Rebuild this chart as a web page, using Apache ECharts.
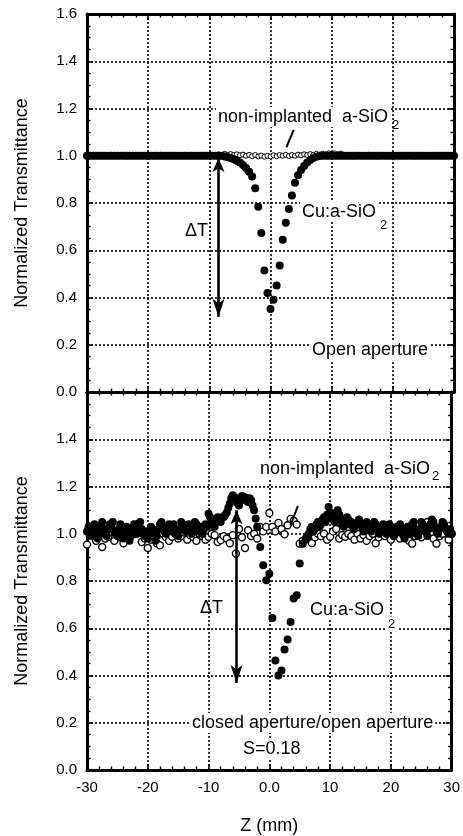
<!DOCTYPE html>
<html>
<head>
<meta charset="utf-8">
<script src="https://cdn.jsdelivr.net/npm/echarts@6/dist/echarts.min.js"></script>
<style>
  html, body { margin: 0; padding: 0; background: #fff; }
  #chart { width: 463px; height: 836px; }
</style>
</head>
<body>
<div id="chart"></div>
<script>
// Sample position along the beam axis, Z (mm), 0.5 mm scan
const zScan = [
  -30, -29.5, -29, -28.5, -28, -27.5, -27, -26.5, -26, -25.5,
  -25, -24.5, -24, -23.5, -23, -22.5, -22, -21.5, -21, -20.5,
  -20, -19.5, -19, -18.5, -18, -17.5, -17, -16.5, -16, -15.5,
  -15, -14.5, -14, -13.5, -13, -12.5, -12, -11.5, -11, -10.5,
  -10, -9.5, -9, -8.5, -8, -7.5, -7, -6.5, -6, -5.5,
  -5, -4.5, -4, -3.5, -3, -2.5, -2, -1.5, -1, -0.5,
  0, 0.5, 1, 1.5, 2, 2.5, 3, 3.5, 4, 4.5,
  5, 5.5, 6, 6.5, 7, 7.5, 8, 8.5, 9, 9.5,
  10, 10.5, 11, 11.5, 12, 12.5, 13, 13.5, 14, 14.5,
  15, 15.5, 16, 16.5, 17, 17.5, 18, 18.5, 19, 19.5,
  20, 20.5, 21, 21.5, 22, 22.5, 23, 23.5, 24, 24.5,
  25, 25.5, 26, 26.5, 27, 27.5, 28, 28.5, 29, 29.5,
  30
];

// Open aperture, Cu:a-SiO2
const openCu = [
  1, 1, 1, 1, 1, 1, 1, 1, 1, 1,
  1, 1, 1, 1, 1, 1, 1, 1, 1, 1,
  1, 1, 1, 1, 1, 1, 1, 1, 1, 1,
  1, 1, 1, 1, 1, 1, 1, 1, 1, 1,
  1, 1, 1, 1, 1.0, 0.997, 0.994, 0.99, 0.985, 0.979,
  0.971, 0.961, 0.948, 0.932, 0.912, 0.862, 0.784, 0.673, 0.514, 0.419,
  0.351, 0.39, 0.451, 0.535, 0.644, 0.716, 0.775, 0.832, 0.886, 0.917,
  0.94, 0.957, 0.971, 0.982, 0.99, 0.996, 0.999, 1, 1, 1,
  1, 1, 1, 1, 1, 1, 1, 1, 1, 1,
  1, 1, 1, 1, 1, 1, 1, 1, 1, 1,
  1, 1, 1, 1, 1, 1, 1, 1, 1, 1,
  1, 1, 1, 1, 1, 1, 1, 1, 1, 1,
  1
];

// Open aperture, non-implanted a-SiO2
const openSiO2 = [
  1.002, 0.998, 1.004, 1.0, 0.997, 1.003, 1.001, 0.998, 1.004, 1.0,
  0.999, 1.003, 1.0, 0.997, 1.002, 1.004, 0.999, 1.001, 0.998, 1.003,
  1.0, 1.002, 0.997, 1.001, 1.004, 0.999, 1.0, 1.003, 0.998, 1.001,
  1.002, 0.999, 1.004, 1.0, 0.998, 1.003, 1.001, 0.997, 1.002, 1.0,
  1.004, 0.999, 1.002, 1.006, 1.003, 1.008, 1.004, 1.007, 1.003, 1.006,
  1.002, 1.005, 1.0, 1.004, 0.998, 1.003, 0.997, 1.001, 0.996, 1.0,
  0.997, 1.002, 0.998, 1.003, 1.0, 1.004, 0.999, 1.003, 1.0, 1.005,
  1.002, 1.006, 1.003, 1.007, 1.004, 1.008, 1.005, 1.009, 1.006, 1.01,
  1.007, 1.01, 1.006, 1.009, 1.004, 1.002, 1.0, 0.997, 1.003, 1.0,
  0.998, 1.002, 1.004, 0.999, 1.001, 0.997, 1.003, 1.0, 0.998, 1.002,
  1.0, 1.003, 0.998, 1.001, 1.004, 0.999, 1.002, 0.997, 1.001, 1.003,
  0.999, 1.002, 1.0, 0.998, 1.004, 1.001, 0.997, 1.003, 1.0, 0.998,
  1.002
];

// Closed aperture / open aperture, non-implanted a-SiO2 (same 0.5 mm scan)
const closedSiO2 = [
  0.954, 1.026, 0.99, 0.97, 1.0, 0.944, 0.98, 0.987, 1.01, 0.97,
  1.0, 0.985, 0.96, 1.0, 0.99, 1.02, 1.0, 1.043, 0.965, 0.98,
  0.94, 0.975, 0.99, 0.96, 0.951, 1.0, 0.985, 0.97, 0.987, 1.0,
  0.98, 0.99, 1.005, 0.975, 0.994, 0.985, 0.97, 1.0, 0.99, 0.975,
  0.987, 1.0, 0.994, 0.965, 0.973, 0.99, 0.98, 0.96, 0.994, 0.916,
  1.02, 0.985, 0.94, 1.015, 0.99, 1.0, 0.98, 1.029, 1.01, 1.029,
  1.088, 1.029, 1.01, 1.046, 1.02, 0.998, 1.036, 1.063, 1.055, 1.039,
  0.958, 0.97, 0.98, 0.99, 0.961, 0.985, 1.0, 0.99, 1.0, 0.975,
  0.987, 1.01, 1.02, 0.98, 0.995, 0.987, 1.0, 0.99, 0.975, 1.0,
  0.98, 0.995, 0.97, 0.99, 1.0, 0.96, 0.985, 1.0, 0.99, 1.0,
  0.975, 0.99, 1.01, 0.98, 0.995, 1.0, 0.97, 0.958, 0.99, 1.0,
  0.985, 1.02, 1.05, 1.0, 0.98, 0.958, 0.99, 1.0, 1.02, 0.975,
  1.0
];

// Closed aperture / open aperture, Cu:a-SiO2: positions (finer scan away from the focus)
const closedCuZ = [
  -30, -29.75, -29.5, -29.25, -29, -28.75, -28.5, -28.25, -28, -27.75,
  -27.5, -27.25, -27, -26.75, -26.5, -26.25, -26, -25.75, -25.5, -25.25,
  -25, -24.75, -24.5, -24.25, -24, -23.75, -23.5, -23.25, -23, -22.75,
  -22.5, -22.25, -22, -21.75, -21.5, -21.25, -21, -20.75, -20.5, -20.25,
  -20, -19.75, -19.5, -19.25, -19, -18.75, -18.5, -18.25, -18, -17.75,
  -17.5, -17.25, -17, -16.75, -16.5, -16.25, -16, -15.75, -15.5, -15.25,
  -15, -14.75, -14.5, -14.25, -14, -13.75, -13.5, -13.25, -13, -12.75,
  -12.5, -12.25, -12, -11.75, -11.5, -11.25, -11, -10.75, -10.5, -10.25,
  -10, -9.75, -9.5, -9.25, -9, -8.75, -8.5, -8.25, -8, -7.75,
  -7.5, -7.25, -7, -6.75, -6.5, -6.25, -6, -5.75, -5.5, -5.25,
  -5, -4.75, -4.5, -4.25, -4, -3.75, -3.5, -3.25, -3, -2.75,
  -2.5, -2.25, -2,
  -1.5, -1, -0.5, 0, 0.5, 1, 1.5, 2, 2.5, 3, 3.5, 4, 4.5, 5, 5.5,
  6, 6.25, 6.5, 6.75, 7, 7.25, 7.5, 7.75, 8, 8.25,
  8.5, 8.75, 9, 9.25, 9.5, 9.75, 10, 10.25, 10.5, 10.75,
  11, 11.25, 11.5, 11.75, 12, 12.25, 12.5, 12.75, 13, 13.25,
  13.5, 13.75, 14, 14.25, 14.5, 14.75, 15, 15.25, 15.5, 15.75,
  16, 16.25, 16.5, 16.75, 17, 17.25, 17.5, 17.75, 18, 18.25,
  18.5, 18.75, 19, 19.25, 19.5, 19.75, 20, 20.25, 20.5, 20.75,
  21, 21.25, 21.5, 21.75, 22, 22.25, 22.5, 22.75, 23, 23.25,
  23.5, 23.75, 24, 24.25, 24.5, 24.75, 25, 25.25, 25.5, 25.75,
  26, 26.25, 26.5, 26.75, 27, 27.25, 27.5, 27.75, 28, 28.25,
  28.5, 28.75, 29, 29.25, 29.5, 29.75, 30
];

// Closed aperture / open aperture, Cu:a-SiO2: normalized transmittance
const closedCuT = [
  1.01, 1.03, 1.00, 0.99, 1.02, 1.04, 1.01, 0.98, 1.00, 1.03,
  1.05, 1.02, 1.00, 0.99, 1.02, 1.04, 1.03, 1.05, 1.01, 1.00,
  0.99, 1.02, 1.04, 1.01, 0.98, 1.00, 1.03, 1.02, 0.97, 0.99,
  1.01, 1.04, 1.03, 1.00, 1.02, 1.05, 1.02, 1.00, 0.99, 1.01,
  0.98, 1.01, 1.03, 1.02, 1.00, 0.97, 0.99, 1.02, 1.04, 1.05,
  1.03, 1.01, 1.00, 1.02, 1.04, 1.03, 1.01, 1.04, 1.02, 1.00,
  0.99, 1.02, 1.05, 1.04, 1.02, 1.01, 1.03, 1.04, 1.02, 1.00,
  1.03, 1.05, 1.04, 1.02, 1.01, 1.03, 1.00, 1.02, 1.04, 1.03,
  1.085, 1.07, 1.06, 1.04, 1.03, 1.05, 1.07, 1.06, 1.05, 1.07,
  1.071, 1.08, 1.09, 1.11, 1.128, 1.15, 1.163, 1.155, 1.15, 1.13,
  1.12, 1.14, 1.16, 1.15, 1.155, 1.14, 1.134, 1.15, 1.142, 1.12,
  1.10, 1.063, 1.03,
  0.944, 0.867, 0.803, 0.831, 0.643, 0.464, 0.400, 0.421, 0.51, 0.552, 0.626, 0.726, 0.74, 0.874, 0.958,
  0.975, 0.99, 1.00, 1.02, 1.03, 1.01, 1.02, 1.04, 1.05, 1.03,
  1.04, 1.06, 1.07, 1.05, 1.08, 1.113, 1.09, 1.07, 1.06, 1.05,
  1.09, 1.10, 1.08, 1.06, 1.04, 1.03, 1.05, 1.07, 1.06, 1.04,
  1.05, 1.03, 1.02, 1.04, 1.05, 1.06, 1.04, 1.03, 1.01, 1.03,
  1.05, 1.04, 1.02, 1.01, 1.03, 1.05, 1.04, 1.02, 1.00, 1.01,
  1.03, 1.04, 1.02, 1.00, 1.02, 1.04, 1.03, 1.01, 0.99, 1.02,
  1.03, 1.01, 1.04, 1.02, 1.00, 0.98, 1.01, 1.03, 1.02, 1.00,
  1.04, 1.05, 1.02, 1.00, 0.99, 1.02, 1.05, 1.04, 1.02, 1.01,
  0.99, 1.02, 1.04, 1.06, 1.05, 1.03, 1.01, 1.00, 1.02, 1.03,
  1.05, 1.04, 1.02, 1.01, 1.00, 1.02, 1.00
];

const zTicks = { min: -30, max: 30, step: 10 };
const tTicks = { min: 0, max: 1.6, step: 0.2 };

const FONT = '"Liberation Sans", Arial, sans-serif';
const INK = '#000';

const pair = (zs, ts) => zs.map((z, i) => [z, ts[i]]);

function xAxisFor(gridIndex, position, showLabels, showGrid) {
  return {
    type: 'value', gridIndex, position,
    min: zTicks.min, max: zTicks.max, interval: zTicks.step,
    axisLine: { show: true, onZero: false, lineStyle: { color: INK, width: 3 } },
    axisTick: { show: true, inside: true, length: 6, lineStyle: { color: INK, width: 1.6 } },
    minorTick: { show: true, splitNumber: 5, length: 3.5, lineStyle: { color: INK, width: 1.4 } },
    axisLabel: {
      show: showLabels, margin: 10, color: INK, fontFamily: FONT, fontSize: 15,
      showMinLabel: true, showMaxLabel: true,
      formatter: v => (v === 0 ? '0.0' : String(v))
    },
    splitLine: { show: showGrid, lineStyle: { color: INK, width: 1.6, type: [2, 2] } },
    minorSplitLine: { show: false }
  };
}

function yAxisFor(gridIndex, position, showLabels, showGrid, hideTop) {
  return {
    type: 'value', gridIndex, position,
    min: tTicks.min, max: tTicks.max, interval: tTicks.step,
    axisLine: { show: true, onZero: false, lineStyle: { color: INK, width: 3 } },
    axisTick: { show: true, inside: true, length: 6, lineStyle: { color: INK, width: 1.6 } },
    minorTick: { show: true, splitNumber: 4, length: 3.5, lineStyle: { color: INK, width: 1.4 } },
    axisLabel: {
      show: showLabels, margin: 10, color: INK, fontFamily: FONT, fontSize: 15,
      showMinLabel: true, showMaxLabel: true,
      formatter: v => (hideTop && v > 1.55 ? '' : v.toFixed(1))
    },
    splitLine: { show: showGrid, lineStyle: { color: INK, width: 1.6, type: [2, 2] } },
    name: showLabels ? 'Normalized Transmittance' : '',
    nameLocation: 'middle', nameRotate: 90, nameGap: 56,
    nameTextStyle: { color: INK, fontFamily: FONT, fontSize: 18 }
  };
}

const chart = echarts.init(document.getElementById('chart'), null, { renderer: 'canvas' });

const arrowLine = { color: INK, width: 2.6, type: 'solid' };
const pointerLine = { color: INK, width: 2, type: 'solid' };

function label(text, x, y, size, opts) {
  return {
    type: 'text', x, y, z: 100,
    style: Object.assign({
      text, fill: INK, font: `${size}px ${FONT}`,
      verticalAlign: 'middle'
    }, opts || {})
  };
}
const boxed = { backgroundColor: '#fff', padding: [1, 2] };

chart.setOption({
  animation: false,
  backgroundColor: '#fff',
  grid: [
    { left: 87, right: 9, top: 14, height: 378 },
    { left: 87, right: 9, top: 392, height: 378 }
  ],
  xAxis: [
    xAxisFor(0, 'bottom', false, true),
    xAxisFor(0, 'top', false, false),
    Object.assign(xAxisFor(1, 'bottom', true, true), {
      name: 'Z (mm)', nameLocation: 'middle', nameGap: 47,
      nameTextStyle: { color: INK, fontFamily: FONT, fontSize: 18 }
    }),
    xAxisFor(1, 'top', false, false)
  ],
  yAxis: [
    yAxisFor(0, 'left', true, true, false),
    yAxisFor(0, 'right', false, false, false),
    yAxisFor(1, 'left', true, true, true),
    yAxisFor(1, 'right', false, false, false)
  ],
  series: [
    {
      name: 'non-implanted a-SiO2 (open)', type: 'scatter',
      xAxisIndex: 0, yAxisIndex: 0, data: pair(zScan, openSiO2),
      symbol: 'circle', symbolSize: 5, z: 2,
      itemStyle: { color: '#fff', borderColor: INK, borderWidth: 1, opacity: 1 }
    },
    {
      name: 'Cu:a-SiO2 (open)', type: 'scatter',
      xAxisIndex: 0, yAxisIndex: 0, data: pair(zScan, openCu),
      symbol: 'circle', symbolSize: 8, z: 3,
      itemStyle: { color: INK, opacity: 1 },
      markLine: {
        silent: true, z: 10, label: { show: false },
        data: [
          [{ coord: [-8.5, 0.99], symbol: 'arrow', symbolSize: [9, 14] },
           { coord: [-8.5, 0.318], symbol: 'arrow', symbolSize: [9, 18], lineStyle: arrowLine }],
          [{ coord: [3.8, 1.11], symbol: 'none' },
           { coord: [2.6, 1.036], symbol: 'none', lineStyle: pointerLine }]
        ],
        lineStyle: arrowLine
      }
    },
    {
      name: 'non-implanted a-SiO2 (closed/open)', type: 'scatter',
      xAxisIndex: 2, yAxisIndex: 2, data: pair(zScan, closedSiO2),
      symbol: 'circle', symbolSize: 7, z: 2,
      itemStyle: { color: '#fff', borderColor: INK, borderWidth: 1.4, opacity: 1 },
      markLine: {
        silent: true, z: 3, label: { show: false },
        data: [
          [{ coord: [-5.4, 1.1], symbol: 'arrow', symbolSize: [9, 14] },
           { coord: [-5.4, 0.368], symbol: 'arrow', symbolSize: [9, 18], lineStyle: arrowLine }],
          [{ coord: [4.7, 1.118], symbol: 'none' },
           { coord: [3.5, 1.036], symbol: 'none', lineStyle: pointerLine }]
        ],
        lineStyle: arrowLine
      }
    },
    {
      name: 'Cu:a-SiO2 (closed/open)', type: 'scatter',
      xAxisIndex: 2, yAxisIndex: 2, data: pair(closedCuZ, closedCuT),
      symbol: 'circle', symbolSize: 8, z: 4,
      itemStyle: { color: INK, opacity: 1 }
    }
  ],
  graphic: [
    // upper panel
    label('non-implanted  a-SiO', 216, 117, 18, boxed),
    label('2', 392, 125, 13),
    label('Cu:a-SiO', 300, 212, 18, boxed),
    label('2', 378, 225, 13, boxed),
    label('\u0394T', 185, 231, 18),
    label('Open aperture', 310, 350, 18, boxed),
    // lower panel
    label('non-implanted  a-SiO', 258, 469, 18, boxed),
    label('2', 432, 476, 13),
    label('Cu:a-SiO', 308, 610, 18, boxed),
    label('2', 386, 624, 13, boxed),
    label('\u0394T', 200, 608, 18),
    label('closed aperture/open aperture', 190, 723, 18, boxed),
    label('S=0.18', 241, 749, 18, boxed)
  ]
});
</script>
</body>
</html>
